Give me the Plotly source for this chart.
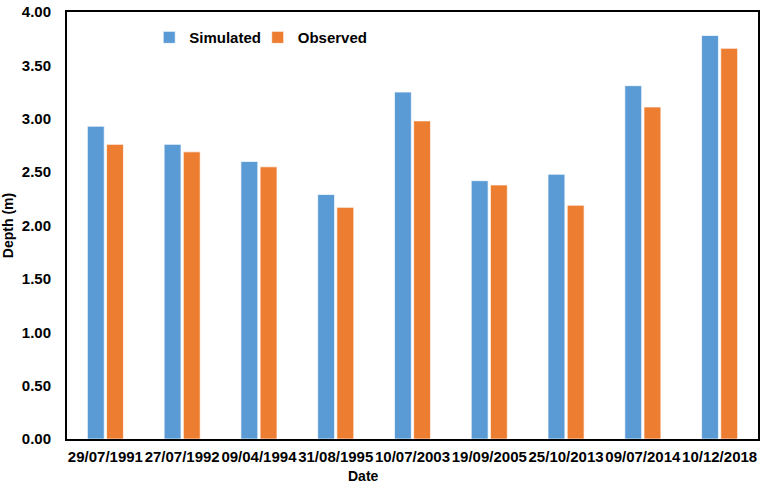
import plotly.graph_objects as go

# Survey dates and water depths (m)
dates = ["29/07/1991", "27/07/1992", "09/04/1994", "31/08/1995", "10/07/2003",
         "19/09/2005", "25/10/2013", "09/07/2014", "10/12/2018"]
simulated = [2.93, 2.76, 2.60, 2.29, 3.25, 2.42, 2.48, 3.31, 3.78]
observed = [2.76, 2.69, 2.55, 2.17, 2.98, 2.38, 2.19, 3.11, 3.66]
y_ticks = [0.0, 0.5, 1.0, 1.5, 2.0, 2.5, 3.0, 3.5, 4.0]

FONT = "Liberation Sans, Arial, sans-serif"
BLUE = "#5B9BD5"
ORANGE = "#ED7D31"

fig = go.Figure()
fig.add_trace(go.Bar(x=dates, y=simulated, name="Simulated", legend="legend",
                     marker=dict(color=BLUE, line=dict(color="rgba(255,255,255,0.7)", width=1))))
fig.add_trace(go.Bar(x=dates, y=observed, name="Observed", legend="legend2",
                     marker=dict(color=ORANGE, line=dict(color="rgba(255,255,255,0.7)", width=1))))

legend_style = dict(orientation="h", y=0.94, xanchor="left", yanchor="middle",
                    font=dict(family=FONT, size=15, weight=700, color="black"),
                    bgcolor="rgba(0,0,0,0)", itemwidth=30)

fig.update_layout(
    width=762, height=485,
    margin=dict(l=67, r=2, t=12, b=46),
    paper_bgcolor="white", plot_bgcolor="white",
    barmode="group", bargap=0.5, bargroupgap=0.12,
    font=dict(family=FONT, color="black", size=15),
    showlegend=True,
    legend=dict(x=0.119, **legend_style),
    legend2=dict(x=0.276, **legend_style),
)

fig.update_xaxes(
    type="category", showline=True, linewidth=2, linecolor="black", mirror=True,
    showgrid=False, ticks="", ticklabelstandoff=3, tickangle=0,
    tickfont=dict(family=FONT, size=15, weight=700, color="black"),
)
fig.update_yaxes(
    range=[0, 4], tickvals=y_ticks, tickformat=".2f",
    showline=True, linewidth=2, linecolor="black", mirror=True,
    showgrid=False, zeroline=False, ticks="", ticklabelstandoff=11,
    tickfont=dict(family=FONT, size=15, weight=700, color="black"),
    title=dict(text="Depth (m)", standoff=8,
               font=dict(family=FONT, size=14, weight=700, color="black")),
)

fig.add_annotation(text="Date", xref="paper", yref="paper", x=0.429, y=-0.087,
                   xanchor="center", yanchor="middle", showarrow=False,
                   font=dict(family=FONT, size=14, weight=700, color="black"))

fig.write_html("out.html")
